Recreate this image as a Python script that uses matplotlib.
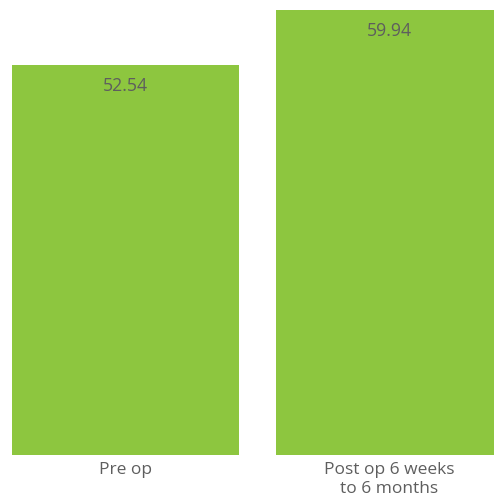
import matplotlib
matplotlib.use('Agg')
import matplotlib.pyplot as plt

categories = ["Pre op", "Post op 6 weeks\nto 6 months"]
values = [52.54, 59.94]

green = "#8dc63f"
grey = "#5e5e5e"

fig = plt.figure(figsize=(4.94, 5.0), dpi=100)
ax = fig.add_axes([0, 0.09, 1, 0.91])

x = list(range(len(categories)))
bars = ax.bar(x, values, width=0.86, color=green)

ax.set_xlim(-0.4754, 1.3958)
ax.set_ylim(0, 61.24)

for b, v in zip(bars, values):
    ax.annotate("%.2f" % v, (b.get_x() + b.get_width() / 2, v),
                xytext=(0, -9), textcoords="offset points",
                ha="center", va="top", fontsize=12.8, color=grey,
                family="Open Sans")

ax.set_xticks(x)
ax.set_xticklabels(categories, fontsize=12.5, color=grey, family="Open Sans",
                   linespacing=1.25)
ax.tick_params(axis="x", length=0, pad=5)
ax.set_yticks([])
for s in ax.spines.values():
    s.set_visible(False)

fig.savefig("out.png", dpi=100)
